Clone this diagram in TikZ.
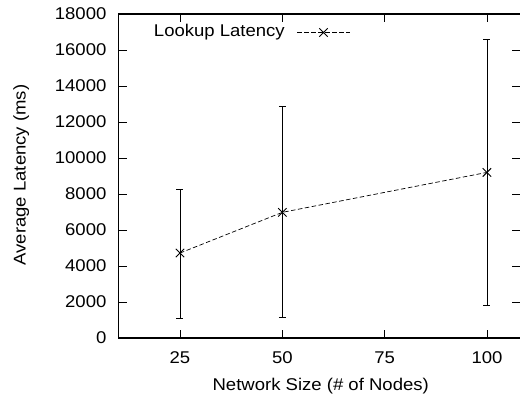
\documentclass[tikz,border=0pt]{standalone}
\usepackage{fontspec}
\setmainfont{Liberation Sans}[FakeStretch=1.09]
\usetikzlibrary{shapes.misc}

\begin{document}
\begin{tikzpicture}[
  x=1pt, y=1pt,
  axisline/.style={draw=black, line width=1.2pt, line join=miter},
  tickline/.style={draw=black, line width=0.8pt},
  errbar/.style={draw=black, line width=0.8pt},
  meanline/.style={draw=black, line width=0.7pt, dash pattern=on 4.5pt off 2.5pt},
  xmark/.style={draw=black, line width=0.9pt, cross out, inner sep=0pt,
                minimum size=7.5pt},
  lbl/.style={inner sep=0pt, font=\fontsize{17}{19}\selectfont},
]

\useasboundingbox (0,0) rectangle (520,397);

% x in nodes, y in thousands of ms
\pgfmathsetmacro{\xu}{4.093}
\pgfmathsetmacro{\yu}{18}
\pgfmathsetmacro{\xR}{108.05}

\begin{scope}[x=\xu pt, y=\yu pt, shift={(77.67pt,59pt)}]

% ---- (1) frame (right side runs off the page) -------------------
\draw[axisline] (\xR,18) -- (10,18) -- (10,0) -- (\xR,0);

% ---- (2) y ticks + labels ---------------------------------------
\foreach \v/\lbl in {0/0,2/2000,4/4000,6/6000,8/8000,10/10000,
                     12/12000,14/14000,16/16000,18/18000}{%
  \draw[tickline] (10,\v) -- ++(8pt,0);
  \draw[tickline] (\xR,\v) -- ++(-8pt,0);
  \node[lbl, anchor=east] (ylbl\v) at ([xshift=-12pt]10,\v) {\lbl};
}

% ---- (3) x ticks + labels ---------------------------------------
\foreach \x in {25,50,75,100}{%
  \draw[tickline] (\x,0) -- ++(0,8pt);
  \draw[tickline] (\x,18) -- ++(0,-8pt);
  \node[lbl, anchor=base] (xlbl\x) at ([yshift=-25pt]\x,0) {\x};
}

% ---- (4) error bars ---------------------------------------------
\foreach \x/\m/\lo/\hi in {25/4.72/1.09/8.28,
                           50/6.98/1.15/12.85,
                           100/9.20/1.80/16.60}{%
  \coordinate (lo\x) at (\x,\lo);
  \coordinate (hi\x) at (\x,\hi);
  \coordinate (p\x)  at (\x,\m);
  \draw[errbar] (lo\x) -- (hi\x);
  \draw[errbar] ([xshift=-3.5pt]lo\x) -- ([xshift=3.5pt]lo\x);
  \draw[errbar] ([xshift=-3.5pt]hi\x) -- ([xshift=3.5pt]hi\x);
}

% ---- (5) mean latency -------------------------------------------
\draw[meanline] (p25) -- (p50) -- (p100);
\foreach \x in {25,50,100}{%
  \node[xmark] (m\x) at (p\x) {};
}

\end{scope}

% ---- (6) key ----------------------------------------------------
\node[lbl, anchor=base east] (keytxt) at (285,360) {Lookup Latency};
\coordinate (keyA) at (297.3,364.5);
\coordinate (keyB) at (350,364.5);
\draw[meanline] (keyA) -- (keyB);
\node[xmark] (keymark) at (323.5,364.5) {};

% ---- (7) axis titles --------------------------------------------
\node[lbl, anchor=base] (xtitle) at (320.7,7) {Network Size (\# of Nodes)};
\node[lbl, anchor=base, rotate=90] (ytitle) at (25.5,222)
     {Average Latency (ms)};

\end{tikzpicture}
\end{document}
